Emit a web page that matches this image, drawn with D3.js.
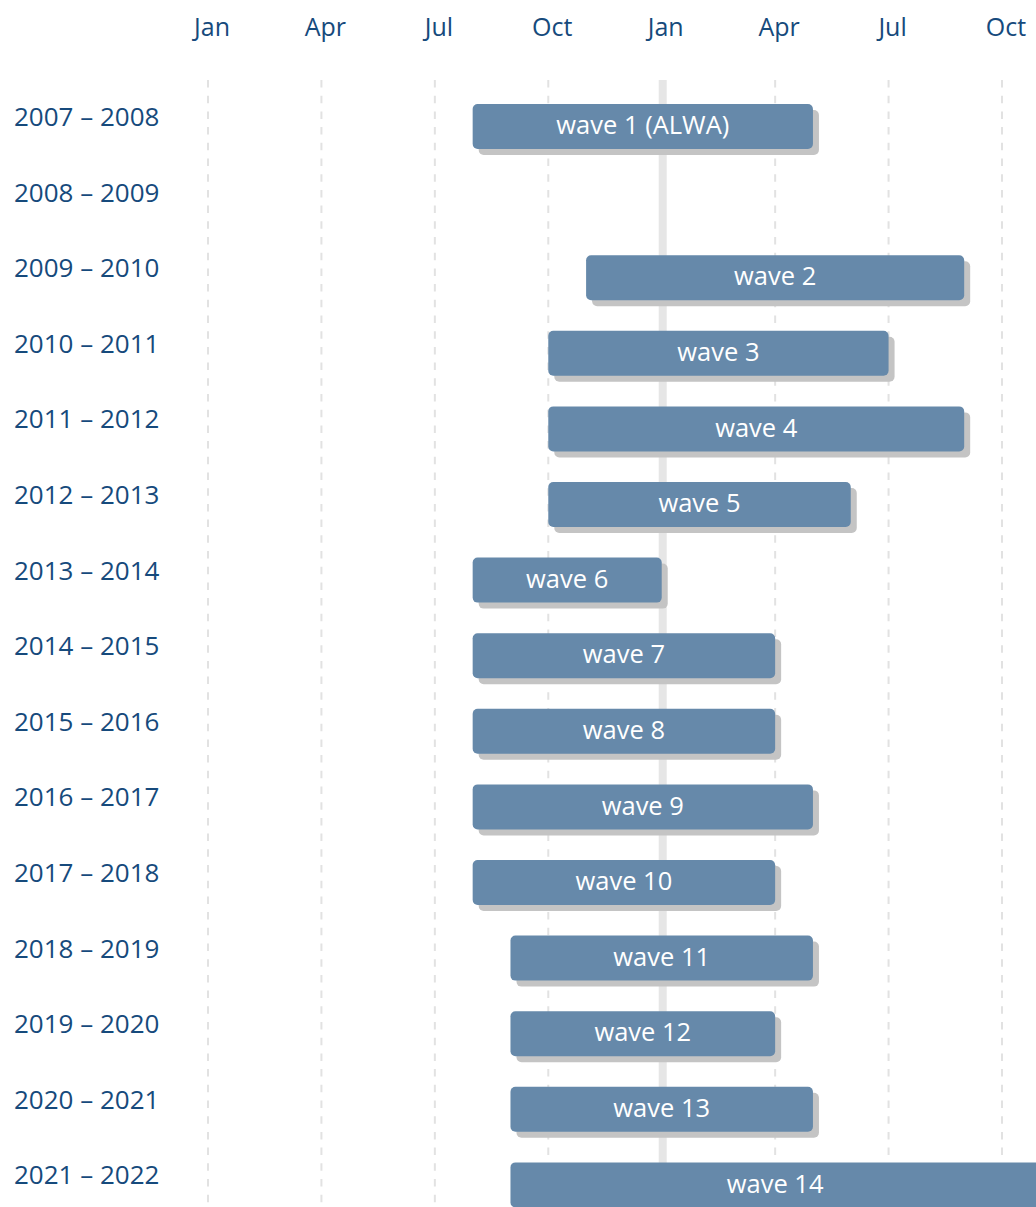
<!DOCTYPE html>
<html>
<head>
<meta charset="utf-8">
<script src="https://cdn.jsdelivr.net/npm/d3@7"></script>
<style>
  body { margin: 0; background: #fff; }
  svg { display: block; font-family: "Open Sans", sans-serif; }
</style>
</head>
<body>
<svg id="chart" width="1036" height="1207"></svg>
<script>
// seasons (rows)
const seasons = ["2007 – 2008", "2008 – 2009", "2009 – 2010", "2010 – 2011", "2011 – 2012",
  "2012 – 2013", "2013 – 2014", "2014 – 2015", "2015 – 2016", "2016 – 2017",
  "2017 – 2018", "2018 – 2019", "2019 – 2020", "2020 – 2021", "2021 – 2022"];

// waves: label, season, start / end in months from Jan of first year
const waveLabels = ["wave 1 (ALWA)", "wave 2", "wave 3", "wave 4", "wave 5", "wave 6", "wave 7",
  "wave 8", "wave 9", "wave 10", "wave 11", "wave 12", "wave 13", "wave 14"];
const waveSeasons = ["2007 – 2008", "2009 – 2010", "2010 – 2011", "2011 – 2012", "2012 – 2013",
  "2013 – 2014", "2014 – 2015", "2015 – 2016", "2016 – 2017", "2017 – 2018",
  "2018 – 2019", "2019 – 2020", "2020 – 2021", "2021 – 2022"];
const waveStart = [7, 10, 9, 9, 9, 7, 7, 7, 7, 7, 8, 8, 8, 8];
const waveEnd   = [16, 20, 18, 20, 17, 12, 15, 15, 16, 15, 16, 15, 16, 22];

// month ticks
const tickMonths = [0, 3, 6, 9, 12, 15, 18, 21];
const tickLabels = ["Jan", "Apr", "Jul", "Oct", "Jan", "Apr", "Jul", "Oct"];

const svg = d3.select("#chart");
const textColor = "#164a7c";
const barColor = "#6689aa";

const x = d3.scaleLinear().domain([0, 21]).range([208, 1002]);
const y = d3.scaleBand().domain(seasons)
  .range([88.7, 88.7 + seasons.length * 75.6])
  .paddingInner(0.405).paddingOuter(0.2025);

// grid lines
const grid = svg.append("g");
grid.selectAll("line.grid")
  .data(tickMonths)
  .join("line")
  .attr("class", "grid")
  .attr("x1", d => x(d)).attr("x2", d => x(d))
  .attr("y1", 80).attr("y2", 1207)
  .attr("stroke", "#e2e2e2")
  .attr("stroke-width", 2)
  .attr("stroke-dasharray", "7.5,8.2");

// thick year boundary line
grid.append("line")
  .attr("x1", x(12) + 1).attr("x2", x(12) + 1)
  .attr("y1", 80).attr("y2", 1207)
  .attr("stroke", "#e6e6e6")
  .attr("stroke-width", 8);

// month labels
svg.append("g").selectAll("text")
  .data(tickMonths)
  .join("text")
  .attr("x", d => x(d) + 4)
  .attr("y", 36)
  .attr("text-anchor", "middle")
  .attr("fill", textColor)
  .style("font-size", "25px")
  .text((d, i) => tickLabels[i]);

// season labels
svg.append("g").selectAll("text")
  .data(seasons)
  .join("text")
  .attr("x", 14)
  .attr("y", d => y(d) + y.bandwidth() / 2 - 0.5)
  .attr("fill", textColor)
  .style("font-size", "26px")
  .text(d => d);

// bars
const bars = svg.append("g").selectAll("g")
  .data(waveLabels.map((l, i) => ({label: l, season: waveSeasons[i], start: waveStart[i], end: waveEnd[i]})))
  .join("g");

// shadow
bars.append("rect")
  .attr("x", d => x(d.start) + 6)
  .attr("y", d => y(d.season) + 6)
  .attr("width", d => x(d.end) - x(d.start))
  .attr("height", y.bandwidth())
  .attr("rx", 5)
  .attr("fill", "#c4c4c4");

bars.append("rect")
  .attr("x", d => x(d.start))
  .attr("y", d => y(d.season))
  .attr("width", d => x(d.end) - x(d.start))
  .attr("height", y.bandwidth())
  .attr("rx", 5)
  .attr("fill", barColor);

bars.append("text")
  .attr("x", d => (x(d.start) + x(d.end)) / 2)
  .attr("y", d => y(d.season) + y.bandwidth() / 2)
  .attr("dy", "0.3em")
  .attr("text-anchor", "middle")
  .attr("fill", "#fff")
  .style("font-size", "25.5px")
  .text(d => d.label);
</script>
</body>
</html>
